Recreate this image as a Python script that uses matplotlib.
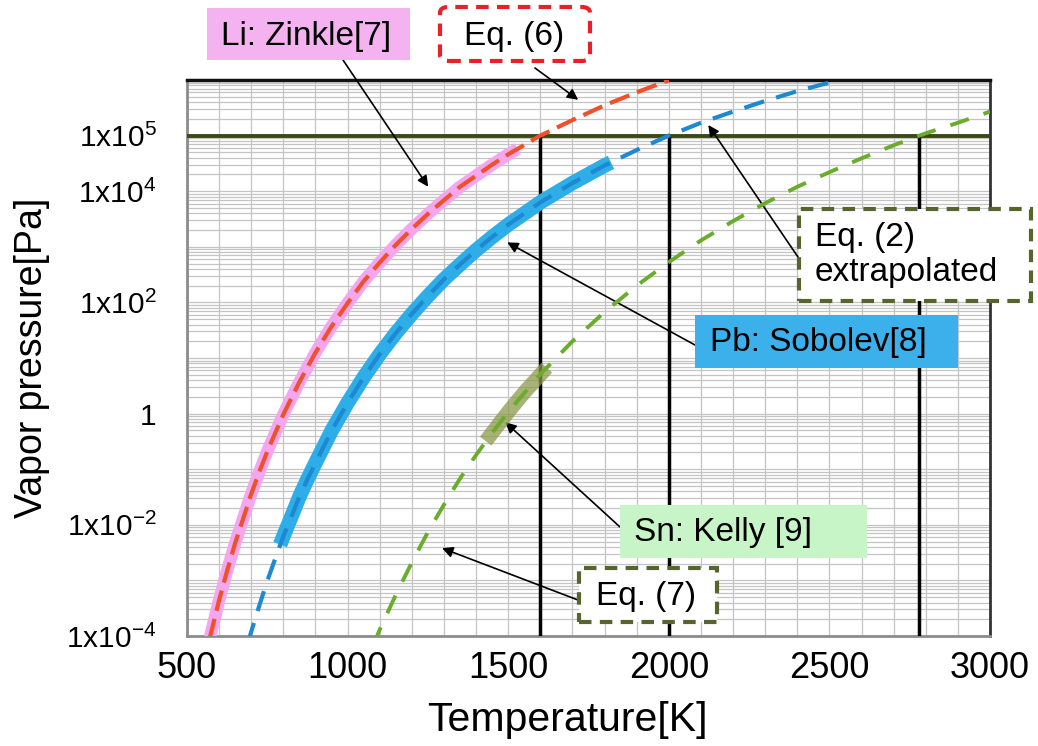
import matplotlib
matplotlib.use("Agg")
import matplotlib.pyplot as plt
from matplotlib.patches import Rectangle, FancyBboxPatch
from matplotlib.ticker import MultipleLocator, LogLocator, NullFormatter, FixedLocator, FixedFormatter

plt.rcParams['font.family'] = ['Liberation Sans', 'DejaVu Sans']
plt.rcParams['mathtext.fontset'] = 'custom'
plt.rcParams['mathtext.rm'] = 'Liberation Sans'
plt.rcParams['mathtext.it'] = 'Liberation Sans:italic'
plt.rcParams['mathtext.bf'] = 'Liberation Sans:bold'

# ---- data ----
# Li, Eq. (6)
li_T = [570, 580, 600, 625, 650, 675, 700, 725, 750, 800, 850, 900, 950, 1000, 1050, 1100, 1150, 1200,
        1250, 1300, 1350, 1400, 1450, 1500, 1600, 1700, 1800, 1900, 2000]
li_P = [8.8e-5, 1.5e-4, 4.4e-4, 1.5e-3, 4.7e-3, 0.013, 0.036, 0.089, 0.21, 0.97, 3.7, 12.5, 37, 97, 240, 520,
        1080, 2100, 3900, 6900, 1.2e4, 1.9e4, 3.0e4, 4.6e4, 1.0e5, 1.9e5, 3.5e5, 6.0e5, 9.9e5]
# Li, Zinkle [7]
zinkle_T = [560, 580, 600, 625, 650, 675, 700, 725, 750, 800, 850, 900, 950, 1000, 1050, 1100, 1150, 1200,
            1250, 1300, 1350, 1400, 1450, 1500, 1530]
zinkle_P = [4.9e-5, 1.5e-4, 4.4e-4, 1.5e-3, 4.7e-3, 0.013, 0.036, 0.089, 0.21, 0.97, 3.7, 12.5, 37, 97, 240, 520,
            1080, 2100, 3900, 6900, 1.2e4, 1.9e4, 3.0e4, 4.6e4, 5.8e4]
# Pb, Eq. (2) extrapolated
pb_T = [690, 700, 725, 750, 775, 800, 825, 850, 875, 900, 950, 1000, 1050, 1100, 1150, 1200, 1250, 1300, 1350,
        1400, 1450, 1500, 1600, 1700, 1800, 1900, 2000, 2100, 2200, 2300, 2400, 2530]
pb_P = [7.5e-5, 1.2e-4, 3.5e-4, 9.8e-4, 2.5e-3, 6.2e-3, 0.014, 0.032, 0.066, 0.13, 0.49, 1.56, 4.5, 11.7, 28, 62,
        130, 260, 480, 870, 1500, 2500, 6300, 1.4e4, 2.9e4, 5.5e4, 1.0e5, 1.7e5, 2.7e5, 4.2e5, 6.3e5, 1.0e6]
# Pb, Sobolev [8]
sobolev_T = [790, 800, 825, 850, 875, 900, 950, 1000, 1050, 1100, 1150, 1200, 1250, 1300, 1350, 1400, 1450,
             1500, 1600, 1700, 1800, 1820]
sobolev_P = [4.4e-3, 6.2e-3, 0.014, 0.032, 0.066, 0.13, 0.49, 1.56, 4.5, 11.7, 28, 62, 130, 260, 480, 870, 1500,
             2500, 6300, 1.4e4, 2.9e4, 3.3e4]
# Sn, Eq. (7)
sn_T = [1080, 1100, 1150, 1200, 1250, 1300, 1350, 1400, 1450, 1500, 1600, 1700, 1800, 1900, 2000, 2100, 2200,
        2300, 2400, 2500, 2600, 2700, 2800, 2900, 3000]
sn_P = [6.8e-5, 1.3e-4, 5.5e-4, 2.1e-3, 7.4e-3, 0.023, 0.068, 0.18, 0.45, 1.07, 5.1, 20, 67, 200, 530, 1300, 2900,
        6100, 1.2e4, 2.2e4, 3.9e4, 6.7e4, 1.1e5, 1.7e5, 2.7e5]
# Sn, Kelly [9]
kelly_T = [1430, 1500, 1550, 1620]
kelly_P = [0.32, 1.07, 2.4, 6.7]

atm_P = 1.0e5
boil_T = [1600, 2000, 2780]

ytick_vals = [1e-4, 1e-2, 1, 1e2, 1e4, 1e5]
ytick_labels = ['1x10$^{-4}$', '1x10$^{-2}$', '1', '1x10$^{2}$', '1x10$^{4}$', '1x10$^{5}$']
xtick_vals = [500, 1000, 1500, 2000, 2500, 3000]

# ---- figure ----
W, H = 1038, 746
fig = plt.figure(figsize=(W / 100, H / 100), dpi=100)
ax = fig.add_axes([187 / W, 1 - 636 / H, (990 - 187) / W, (636 - 80) / H])
ax.set_yscale('log')
ax.set_xlim(500, 3000)
ax.set_ylim(1e-4, 1e6)

# grid
ax.xaxis.set_major_locator(FixedLocator(xtick_vals))
ax.xaxis.set_minor_locator(MultipleLocator(100))
ax.yaxis.set_major_locator(FixedLocator(ytick_vals))
ax.yaxis.set_major_formatter(FixedFormatter(ytick_labels))
ax.yaxis.set_minor_locator(LogLocator(base=10, subs=[1, 2, 3, 4, 5, 6, 7, 8, 9], numticks=50))
ax.yaxis.set_minor_formatter(NullFormatter())
ax.grid(True, which='both', axis='both', color='#c4c4c4', lw=0.9, zorder=0)
ax.set_axisbelow(True)
ax.tick_params(which='both', length=0)
ax.tick_params(axis='x', labelsize=26, pad=11)
ax.tick_params(axis='y', labelsize=21.5, pad=22)

for s in ['left', 'bottom']:
    ax.spines[s].set_color('#8c8c8c')
    ax.spines[s].set_linewidth(2)
ax.spines['right'].set_color('#333333')
ax.spines['right'].set_linewidth(2)
ax.spines['top'].set_color('#111111')
ax.spines['top'].set_linewidth(2.5)

# reference lines
ax.axhline(atm_P, color='#3b4a14', lw=2.8, zorder=3)
ax.vlines(boil_T, 1e-4, atm_P, color='black', lw=2.5, zorder=3)

# thick literature bands
ax.plot(zinkle_T, zinkle_P, color='#f4a6ee', lw=9, solid_capstyle='butt', zorder=4)
ax.plot(sobolev_T, sobolev_P, color='#2eaee8', lw=10.5, solid_capstyle='butt', zorder=4)
ax.plot(kelly_T, kelly_P, color='#8c9a4a', lw=10.5, alpha=0.75, solid_capstyle='butt', zorder=4)

# equation curves (dashed)
ax.plot(li_T, li_P, color='#f0502a', lw=3, dashes=(5, 2), zorder=5)
ax.plot(pb_T, pb_P, color='#1e88d0', lw=3, dashes=(5, 3), zorder=5)
ax.plot(sn_T, sn_P, color='#6aac2c', lw=2.8, dashes=(5, 4), zorder=5)

ax.set_xlabel('Temperature[K]', fontsize=29.5)
ax.xaxis.set_label_coords((567 - 187) / (990 - 187), (636 - 701) / (636 - 80))
ax.set_ylabel('Vapor pressure[Pa]', fontsize=27, labelpad=12)


def ff(px, py):
    return (px / W, 1 - py / H)


def box(x0, x1, y0, y1, fc, ec='none', dashed=False, rounded=False):
    kw = dict(transform=fig.transFigure, fc=fc, ec=ec, lw=3 if dashed else 0, zorder=6)
    if dashed:
        kw['ls'] = (0, (3, 2))
    if rounded:
        p = FancyBboxPatch((x0 / W, 1 - y1 / H), (x1 - x0) / W, (y1 - y0) / H,
                           boxstyle='round,pad=0,rounding_size=0.008', **kw)
    else:
        p = Rectangle((x0 / W, 1 - y1 / H), (x1 - x0) / W, (y1 - y0) / H, **kw)
    fig.add_artist(p)


arrow = dict(arrowstyle='-|>', color='black', lw=1.2, mutation_scale=16, shrinkA=0, shrinkB=0)
FS = 24
OLIVE = '#56652e'

# Li: Zinkle
box(207, 410, 8, 60, '#f5b2f0')
fig.text(*ff(306, 36), 'Li: Zinkle[7]', fontsize=FS, ha='center', va='center', zorder=7)
ax.annotate('', xy=(1251, 1.2e4), xycoords='data', xytext=ff(343, 60), textcoords='figure fraction', arrowprops=arrow)

# Eq. (6)
box(440, 590, 7, 61, 'white', '#e8202a', dashed=True, rounded=True)
fig.text(*ff(514, 36), 'Eq. (6)', fontsize=FS, ha='center', va='center', zorder=7)
ax.annotate('', xy=(1718, 4.4e5), xycoords='data', xytext=ff(535, 68), textcoords='figure fraction', arrowprops=arrow)

# Eq. (2) extrapolated
box(799, 1031, 209, 301, 'white', OLIVE, dashed=True)
fig.text(*ff(815, 255), 'Eq. (2)\nextrapolated', fontsize=FS, ha='left', va='center', linespacing=1.15, zorder=7)
ax.annotate('', xy=(2123, 1.55e5), xycoords='data', xytext=ff(800, 260), textcoords='figure fraction', arrowprops=arrow)

# Pb: Sobolev
box(695, 958, 315, 368, '#3bb0ea')
fig.text(*ff(818, 342), 'Pb: Sobolev[8]', fontsize=FS, ha='center', va='center', zorder=7)
ax.annotate('', xy=(1497, 1.2e3), xycoords='data', xytext=ff(695, 345), textcoords='figure fraction', arrowprops=arrow)

# Sn: Kelly
box(620, 867, 505, 558, '#c8f5c8')
fig.text(*ff(723, 533), 'Sn: Kelly [9]', fontsize=FS, ha='center', va='center', zorder=7)
ax.annotate('', xy=(1491, 0.7), xycoords='data', xytext=ff(620, 527), textcoords='figure fraction', arrowprops=arrow)

# Eq. (7)
box(579, 717, 568, 622, 'white', OLIVE, dashed=True)
fig.text(*ff(646, 596), 'Eq. (7)', fontsize=FS, ha='center', va='center', zorder=7)
ax.annotate('', xy=(1294, 3.8e-3), xycoords='data', xytext=ff(578, 600), textcoords='figure fraction', arrowprops=arrow)

fig.savefig('out.png', dpi=100)
